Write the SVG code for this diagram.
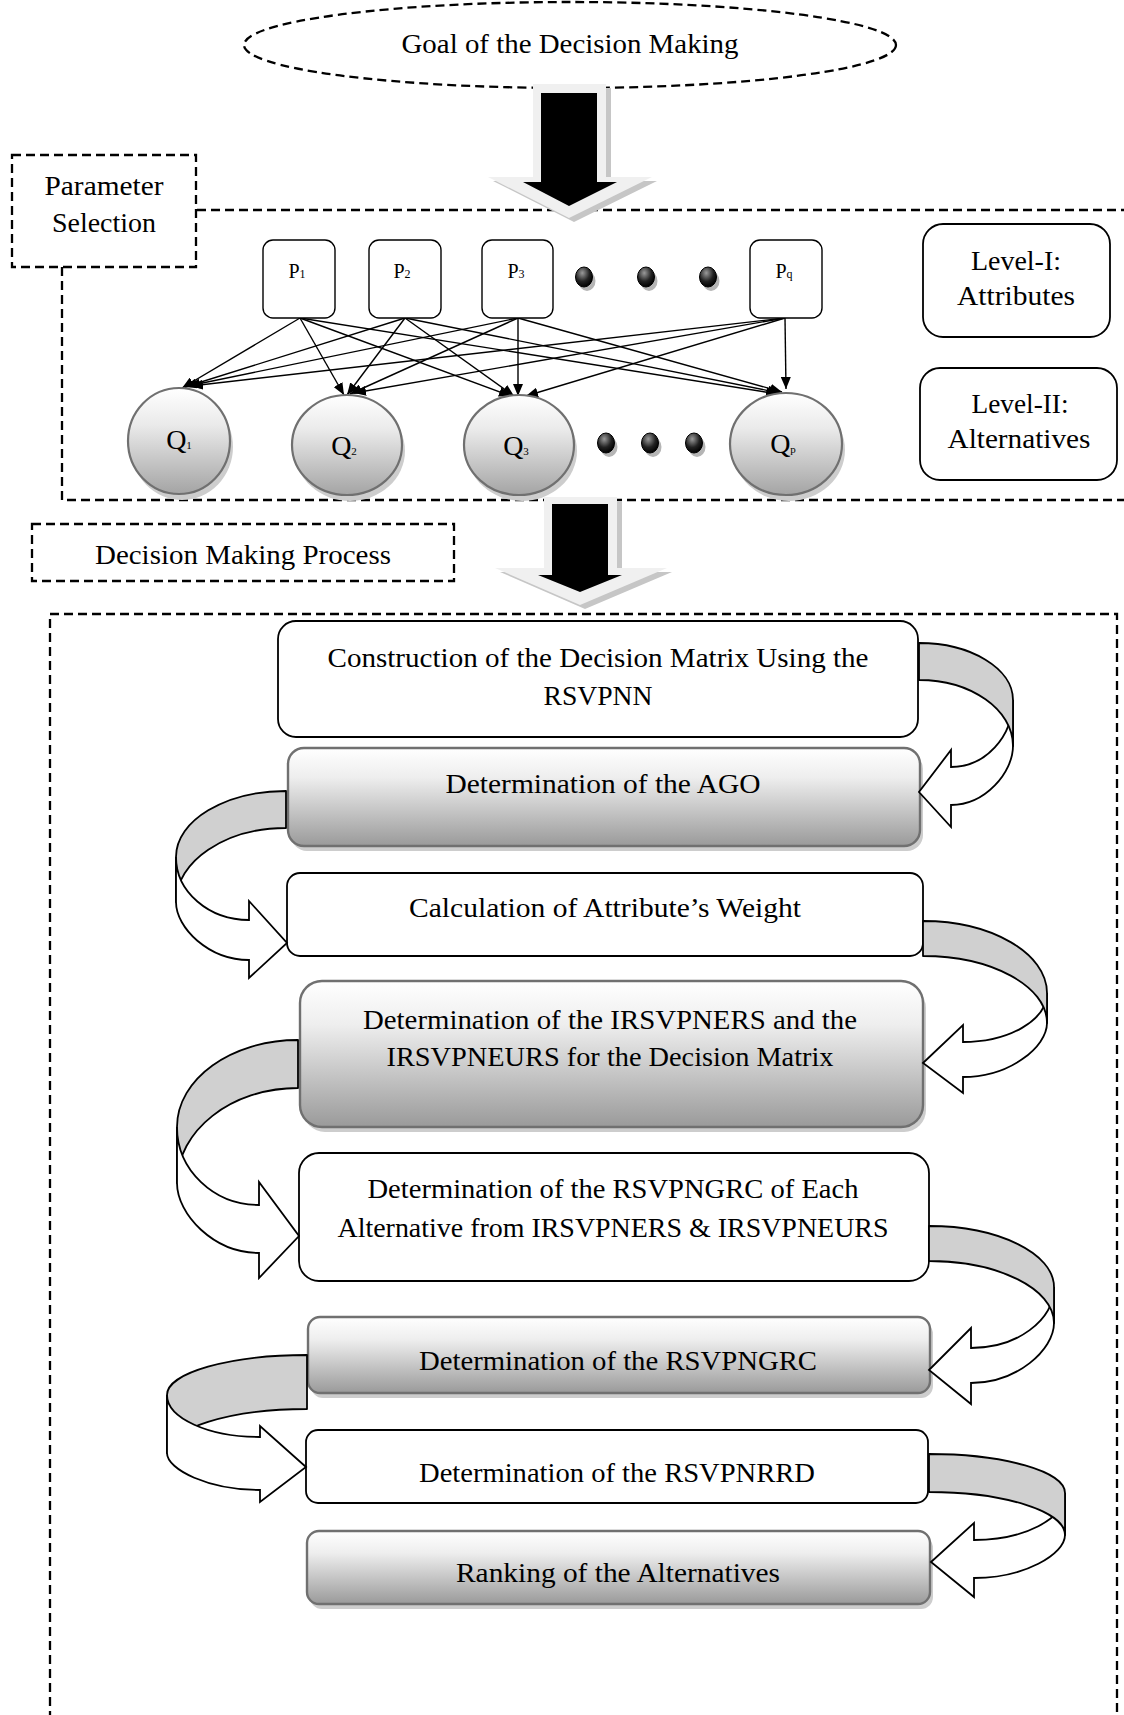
<svg xmlns="http://www.w3.org/2000/svg" width="1124" height="1715" viewBox="0 0 1124 1715">
<style>
.dash{fill:none;stroke:#000;stroke-width:2.3;stroke-dasharray:9 5}
.dashw{fill:#fff;stroke:#000;stroke-width:2.3;stroke-dasharray:9 5}
.t{font-family:"Liberation Serif","Times New Roman",serif;font-size:27px;fill:#000;text-anchor:middle}
.ts{font-family:"Liberation Serif","Times New Roman",serif;font-size:20px;fill:#000;text-anchor:middle}
.tq{font-family:"Liberation Serif","Times New Roman",serif;font-size:28px;fill:#000;text-anchor:middle}
.wbox{fill:#fff;stroke:#000;stroke-width:1.8}
.gbox{fill:url(#boxGrad);stroke:#707070;stroke-width:2.4}
.shadow{fill:#cdcdcd}
.pbox{fill:#fff;stroke:#000;stroke-width:1.4}
.qc{fill:url(#qGrad);stroke:#707070;stroke-width:2.2}
.dot{fill:url(#dotGrad);stroke:#000;stroke-width:1}
.dsh{fill:#b5b5b5}
.edge{fill:none;stroke:#000;stroke-width:1.4;marker-end:url(#ah)}
.band{fill:#d0d0d0;stroke:#000;stroke-width:1.8;stroke-linejoin:round}
.front{fill:#fff;stroke:#000;stroke-width:1.8;stroke-linejoin:miter}
.bigl{fill:#f0f0f0}
.bigs{fill:#c6c6c6}
</style>
<defs>
<linearGradient id="boxGrad" x1="0" y1="0" x2="0" y2="1">
<stop offset="0" stop-color="#ffffff"/>
<stop offset="0.3" stop-color="#eeeeee"/>
<stop offset="1" stop-color="#9a9a9a"/>
</linearGradient>
<linearGradient id="qGrad" x1="0" y1="0" x2="0" y2="1">
<stop offset="0" stop-color="#ffffff"/>
<stop offset="0.35" stop-color="#eaeaea"/>
<stop offset="1" stop-color="#a4a4a4"/>
</linearGradient>
<radialGradient id="dotGrad" cx="0.4" cy="0.3" r="0.7">
<stop offset="0" stop-color="#9a9a9a"/>
<stop offset="0.6" stop-color="#222"/>
<stop offset="1" stop-color="#000"/>
</radialGradient>
<marker id="ah" viewBox="0 0 12 10" refX="12" refY="5" markerWidth="12" markerHeight="10" markerUnits="userSpaceOnUse" orient="auto">
<path d="M0,0 L12,5 L0,10 z" fill="#000"/>
</marker>
</defs>
<rect width="1124" height="1715" fill="#fff"/>

<g id="param-region">
<path class="dash" d="M197,210 H1130 M62,267 V500 H1130"/>
</g>
<g id="process-region">
<path class="dash" d="M50,1720 V614 H1117 V1720"/>
</g>
<g id="param-label">
<rect class="dashw" x="12" y="155" width="184" height="112"/>
<text class="t" x="104" y="195" textLength="119" lengthAdjust="spacingAndGlyphs">Parameter</text>
<text class="t" x="104" y="232" textLength="104" lengthAdjust="spacingAndGlyphs">Selection</text>
</g>
<g id="process-label">
<rect class="dashw" x="32" y="524" width="422" height="57"/>
<text class="t" x="243" y="564" textLength="296" lengthAdjust="spacingAndGlyphs">Decision Making Process</text>
</g>
<g id="goal">
<ellipse class="dashw" cx="570" cy="45" rx="326" ry="43"/>
<text class="t" x="570" y="53" textLength="337" lengthAdjust="spacingAndGlyphs">Goal of the Decision Making</text>
</g>

<g id="connectors">
<g id="big-arrow-1">
<path class="bigs" d="M538,88 H611 V181 H657 L574,222 L493,181 H538 Z"/>
<path class="bigl" d="M533,84 H606 V177 H652 L569,218 L488,177 H533 Z"/>
<path fill="#000" d="M541,93 H597 V182 H617 L569,206 L523,182 H541 Z"/>
</g>
<g id="big-arrow-2">
<path class="bigs" d="M549,501 H622 V572 H672 L585,609 L500,572 H549 Z"/>
<path class="bigl" d="M544,497 H617 V568 H667 L580,605 L495,568 H544 Z"/>
<path fill="#000" d="M552,504 H608 V575 H622 L580,592 L538,575 H552 Z"/>
</g>
<g id="pq-edges">
<line class="edge" x1="300" y1="318" x2="182" y2="388"/>
<line class="edge" x1="300" y1="318" x2="344" y2="395"/>
<line class="edge" x1="300" y1="318" x2="511" y2="396"/>
<line class="edge" x1="300" y1="318" x2="778" y2="394"/>
<line class="edge" x1="405" y1="318" x2="185" y2="387"/>
<line class="edge" x1="405" y1="318" x2="347" y2="395"/>
<line class="edge" x1="405" y1="318" x2="514" y2="396"/>
<line class="edge" x1="405" y1="318" x2="780" y2="393"/>
<line class="edge" x1="518" y1="318" x2="188" y2="386"/>
<line class="edge" x1="518" y1="318" x2="350" y2="394"/>
<line class="edge" x1="518" y1="318" x2="518" y2="396"/>
<line class="edge" x1="518" y1="318" x2="782" y2="392"/>
<line class="edge" x1="785" y1="318" x2="191" y2="386"/>
<line class="edge" x1="785" y1="318" x2="354" y2="393"/>
<line class="edge" x1="785" y1="318" x2="526" y2="396"/>
<line class="edge" x1="785" y1="318" x2="786" y2="389"/>
</g>
</g>

<g id="P1"><rect class="pbox" x="263" y="240" width="72" height="78" rx="10"/><text class="ts" x="297" y="278">P<tspan font-size="12">1</tspan></text></g>
<g id="P2"><rect class="pbox" x="369" y="240" width="72" height="78" rx="10"/><text class="ts" x="402" y="278">P<tspan font-size="12">2</tspan></text></g>
<g id="P3"><rect class="pbox" x="482" y="240" width="71" height="78" rx="10"/><text class="ts" x="516" y="278">P<tspan font-size="12">3</tspan></text></g>
<g id="Pq"><rect class="pbox" x="750" y="240" width="72" height="78" rx="10"/><text class="ts" x="784" y="278">P<tspan font-size="12">q</tspan></text></g>
<g id="p-dots">
<ellipse class="dsh" cx="587" cy="281" rx="8.5" ry="10"/><ellipse class="dot" cx="584" cy="277" rx="8.5" ry="10"/>
<ellipse class="dsh" cx="649" cy="281" rx="8.5" ry="10"/><ellipse class="dot" cx="646" cy="277" rx="8.5" ry="10"/>
<ellipse class="dsh" cx="711" cy="281" rx="8.5" ry="10"/><ellipse class="dot" cx="708" cy="277" rx="8.5" ry="10"/>
</g>

<g id="Q1"><ellipse class="shadow" cx="182" cy="447" rx="51" ry="53"/><ellipse class="qc" cx="179" cy="441" rx="51" ry="53"/><text class="tq" x="179" y="449">Q<tspan font-size="11">1</tspan></text></g>
<g id="Q2"><ellipse class="shadow" cx="350" cy="451" rx="55" ry="50"/><ellipse class="qc" cx="347" cy="445" rx="55" ry="50"/><text class="tq" x="344" y="455">Q<tspan font-size="11">2</tspan></text></g>
<g id="Q3"><ellipse class="shadow" cx="522" cy="451" rx="55" ry="50"/><ellipse class="qc" cx="519" cy="445" rx="55" ry="50"/><text class="tq" x="516" y="455">Q<tspan font-size="11">3</tspan></text></g>
<g id="Qp"><ellipse class="shadow" cx="789" cy="450" rx="56" ry="51"/><ellipse class="qc" cx="786" cy="444" rx="56" ry="51"/><text class="tq" x="783" y="453">Q<tspan font-size="11">p</tspan></text></g>
<g id="q-dots">
<ellipse class="dsh" cx="609" cy="447" rx="8.5" ry="10"/><ellipse class="dot" cx="606" cy="443" rx="8.5" ry="10"/>
<ellipse class="dsh" cx="653" cy="447" rx="8.5" ry="10"/><ellipse class="dot" cx="650" cy="443" rx="8.5" ry="10"/>
<ellipse class="dsh" cx="697" cy="447" rx="8.5" ry="10"/><ellipse class="dot" cx="694" cy="443" rx="8.5" ry="10"/>
</g>

<g id="level-1"><rect class="wbox" x="923" y="224" width="187" height="113" rx="20"/>
<text class="t" x="1016" y="270" textLength="90" lengthAdjust="spacingAndGlyphs">Level-I:</text>
<text class="t" x="1016" y="305" textLength="118" lengthAdjust="spacingAndGlyphs">Attributes</text></g>
<g id="level-2"><rect class="wbox" x="920" y="368" width="197" height="112" rx="20"/>
<text class="t" x="1020" y="413" textLength="97" lengthAdjust="spacingAndGlyphs">Level-II:</text>
<text class="t" x="1019" y="448" textLength="143" lengthAdjust="spacingAndGlyphs">Alternatives</text></g>

<g id="step1"><rect class="wbox" x="278" y="621" width="640" height="116" rx="18"/>
<text class="t" x="598" y="667" textLength="541" lengthAdjust="spacingAndGlyphs">Construction of the Decision Matrix Using the</text>
<text class="t" x="598" y="705" textLength="109" lengthAdjust="spacingAndGlyphs">RSVPNN</text></g>
<g id="step2"><rect class="shadow" x="291" y="753" width="632" height="98" rx="16"/><rect class="gbox" x="288" y="748" width="632" height="98" rx="16"/>
<text class="t" x="603" y="793" textLength="315" lengthAdjust="spacingAndGlyphs">Determination of the AGO</text></g>
<g id="step3"><rect class="wbox" x="287" y="873" width="636" height="83" rx="13"/>
<text class="t" x="605" y="917" textLength="392" lengthAdjust="spacingAndGlyphs">Calculation of Attribute’s Weight</text></g>
<g id="step4"><rect class="shadow" x="303" y="986" width="623" height="146" rx="22"/><rect class="gbox" x="300" y="981" width="623" height="146" rx="22"/>
<text class="t" x="610" y="1029" textLength="494" lengthAdjust="spacingAndGlyphs">Determination of the IRSVPNERS and the</text>
<text class="t" x="610" y="1066" textLength="447" lengthAdjust="spacingAndGlyphs">IRSVPNEURS for the Decision Matrix</text></g>
<g id="step5"><rect class="wbox" x="299" y="1153" width="630" height="128" rx="20"/>
<text class="t" x="613" y="1198" textLength="491" lengthAdjust="spacingAndGlyphs">Determination of the RSVPNGRC of Each</text>
<text class="t" x="613" y="1237" textLength="551" lengthAdjust="spacingAndGlyphs">Alternative from IRSVPNERS &amp; IRSVPNEURS</text></g>
<g id="step6"><rect class="shadow" x="311" y="1322" width="622" height="76" rx="12"/><rect class="gbox" x="308" y="1317" width="622" height="76" rx="12"/>
<text class="t" x="618" y="1370" textLength="398" lengthAdjust="spacingAndGlyphs">Determination of the RSVPNGRC</text></g>
<g id="step7"><rect class="wbox" x="306" y="1430" width="622" height="73" rx="12" stroke-width="2.6"/>
<text class="t" x="617" y="1482" textLength="396" lengthAdjust="spacingAndGlyphs">Determination of the RSVPNRRD</text></g>
<g id="step8"><rect class="shadow" x="310" y="1536" width="623" height="73" rx="12"/><rect class="gbox" x="307" y="1531" width="623" height="73" rx="12"/>
<text class="t" x="618" y="1582" textLength="324" lengthAdjust="spacingAndGlyphs">Ranking of the Alternatives</text></g>

<g id="flow-connectors">
<g id="c1">
<path class="front" d="M1013,700 C1013,737 985.2,767 951,767 L951,750 L919,792 L951,827 L951,805 C985.2,805 1013,772.4 1013,746 Z"/>
<path class="band" d="M919,643 C970.9,643 1013,668.5 1013,700 L1013,746 C1013,709.6 970.9,680 919,680 Z"/>
</g>
<g id="c2">
<path class="band" d="M286,791 C225.3,791 176,820.6 176,857 L176,902 C176,861.2 225.3,828 286,828 Z"/>
<path class="front" d="M176,857 C176,891.8 208.7,920 249,920 L249,901 L287,943 L249,978 L249,960 C208.7,960 176,928 176,902 Z"/>
</g>
<g id="c3">
<path class="front" d="M1047,993 C1047,1020 1009.4,1042 963,1042 L963,1025 L923,1063 L963,1093 L963,1077 C1009.4,1077 1047,1047.2 1047,1023 Z"/>
<path class="band" d="M923,921 C991.4,921 1047,953.3 1047,993 L1047,1023 C1047,986 991.4,956 923,956 Z"/>
</g>
<g id="c4">
<path class="band" d="M298,1040 C231.2,1040 177,1079 177,1127 L177,1183 C177,1130.6 231.2,1088 298,1088 Z"/>
<path class="front" d="M177,1127 C177,1170 213.7,1205 259,1205 L259,1182 L299,1236 L259,1278 L259,1253 C213.7,1253 177,1214.4 177,1183 Z"/>
</g>
<g id="c5">
<path class="front" d="M1054,1287 C1054,1320.7 1016.8,1348 971,1348 L971,1328 L929,1370 L971,1404 L971,1383 C1016.8,1383 1054,1349.9 1054,1323 Z"/>
<path class="band" d="M929,1226 C998,1226 1054,1253.3 1054,1287 L1054,1323 C1054,1288.8 998,1261 929,1261 Z"/>
</g>
<g id="c6">
<path class="band" d="M307,1355 C229.7,1355 167,1372.9 167,1395 L167,1453 C167,1428.7 229.7,1409 307,1409 Z"/>
<path class="front" d="M167,1395 C167,1418.2 208.7,1437 260,1437 L260,1426 L306,1467 L260,1502 L260,1490 C208.7,1490 167,1469.6 167,1453 Z"/>
</g>
<g id="c7">
<path class="front" d="M1065,1493 C1065,1518.9 1024.2,1540 974,1540 L974,1523 L931,1562 L974,1597 L974,1578 C1024.2,1578 1065,1554.3 1065,1535 Z"/>
<path class="band" d="M929,1454 C1004.1,1454 1065,1471.5 1065,1493 L1065,1535 C1065,1511.3 1004.1,1492 929,1492 Z"/>
</g>
</g>
</svg>
